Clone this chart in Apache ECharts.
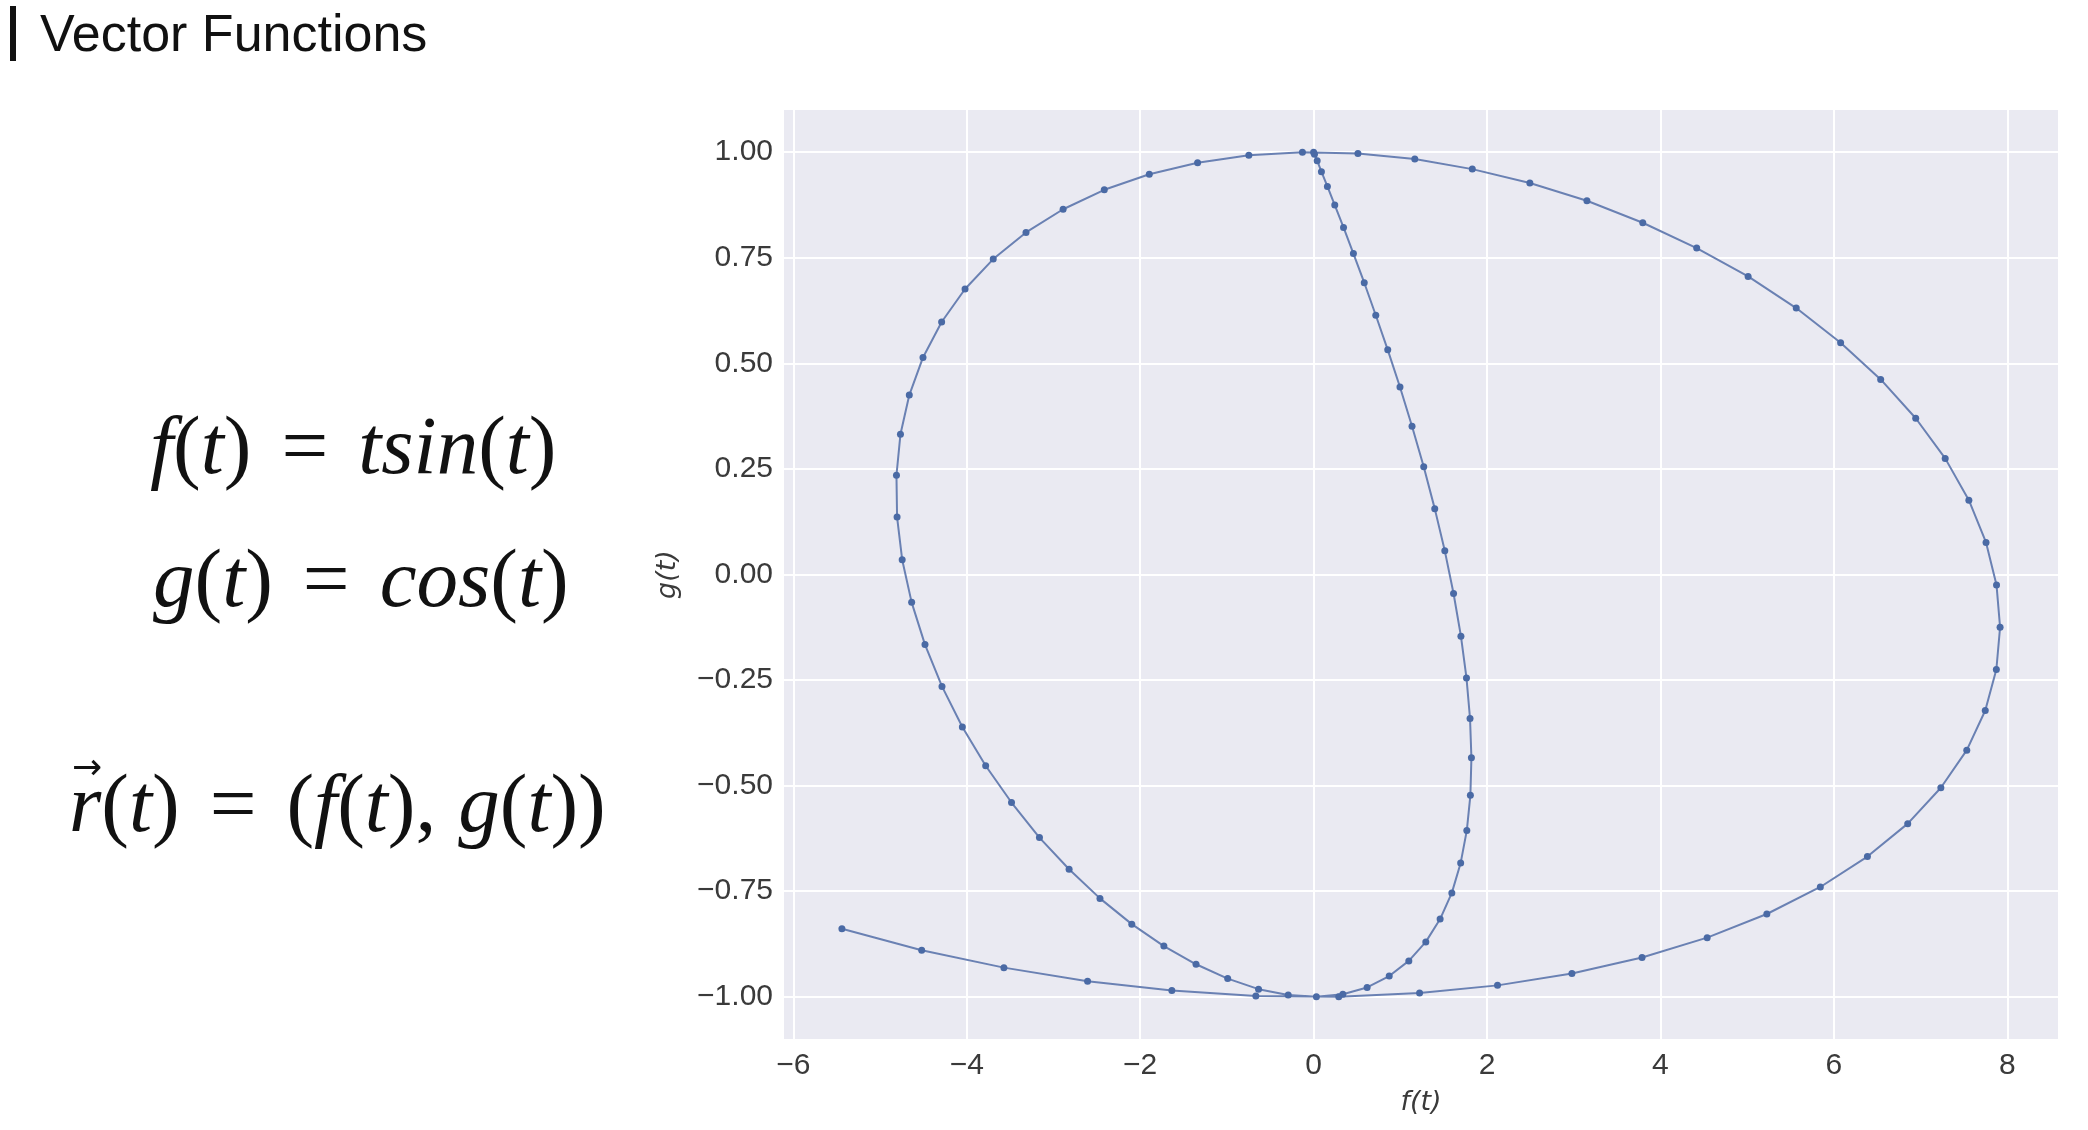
<!DOCTYPE html>
<html>
<head>
<meta charset="utf-8">
<title>Vector Functions</title>
<script src="https://cdn.jsdelivr.net/npm/echarts@6/dist/echarts.min.js"></script>
<style>
  html, body { margin: 0; padding: 0; background: #fff; }
  #chart { width: 2088px; height: 1130px; }
</style>
</head>
<body>
<div id="chart"></div>
<script>
const fVals = [0, 0.010, 0.041, 0.090, 0.159, 0.244, 0.345, 0.459, 0.584, 0.717,
  0.855, 0.996, 1.135, 1.270, 1.397, 1.513, 1.614, 1.699, 1.763, 1.804,
  1.820, 1.808, 1.767, 1.696, 1.594, 1.459, 1.294, 1.098, 0.872, 0.617,
  0.337, 0.032, -0.293, -0.635, -0.991, -1.356, -1.727, -2.097, -2.464, -2.820,
  -3.162, -3.484, -3.782, -4.051, -4.286, -4.482, -4.636, -4.745, -4.804, -4.811,
  -4.765, -4.663, -4.505, -4.290, -4.020, -3.695, -3.317, -2.889, -2.414, -1.895,
  -1.338, -0.747, -0.129, 0.511, 1.167, 1.830, 2.494, 3.152, 3.796, 4.418,
  5.011, 5.566, 6.078, 6.540, 6.944, 7.284, 7.557, 7.755, 7.876, 7.917,
  7.874, 7.746, 7.533, 7.234, 6.852, 6.387, 5.844, 5.227, 4.539, 3.788,
  2.979, 2.121, 1.222, 0.290, -0.666, -1.635, -2.607, -3.572, -4.520, -5.440]

const gVals = [1.000, 0.995, 0.980, 0.954, 0.919, 0.875, 0.822, 0.760, 0.691, 0.614,
  0.532, 0.444, 0.351, 0.255, 0.156, 0.056, -0.045, -0.146, -0.245, -0.341,
  -0.434, -0.523, -0.606, -0.683, -0.754, -0.816, -0.870, -0.915, -0.951, -0.978,
  -0.994, -1.000, -0.996, -0.982, -0.957, -0.923, -0.880, -0.828, -0.767, -0.698,
  -0.623, -0.540, -0.453, -0.361, -0.265, -0.166, -0.066, 0.035, 0.136, 0.235,
  0.332, 0.425, 0.514, 0.598, 0.676, 0.747, 0.810, 0.865, 0.911, 0.948,
  0.975, 0.993, 1.000, 0.997, 0.984, 0.960, 0.927, 0.885, 0.833, 0.773,
  0.706, 0.631, 0.549, 0.462, 0.370, 0.275, 0.176, 0.076, -0.025, -0.125,
  -0.225, -0.322, -0.416, -0.505, -0.590, -0.668, -0.740, -0.804, -0.860, -0.907,
  -0.945, -0.973, -0.991, -1.000, -0.998, -0.985, -0.963, -0.931, -0.890, -0.839]

const xTicks = [-6, -4, -2, 0, 2, 4, 6, 8]
const yTicks = [-1, -0.75, -0.5, -0.25, 0, 0.25, 0.5, 0.75, 1]

// matplotlib style 5% margins
const xMin = -6.108, xMax = 8.585
const yMin = -1.1, yMax = 1.1

const points = fVals.map((x, i) => [x, gVals[i]])

const minus = s => s.replace('-', '\u2212')
const labelColor = '#3a3a3a'

// formula text styles
const mathRich = {
  i: { fontFamily: 'Liberation Serif', fontStyle: 'italic', fontSize: 83, fill: '#111' },
  n: { fontFamily: 'Liberation Serif', fontSize: 83, fill: '#111' },
  e: { fontFamily: 'Liberation Serif', fontSize: 83, fill: '#111', padding: [0, 30] },
  c: { fontFamily: 'Liberation Serif', fontSize: 83, fill: '#111', padding: [0, 22, 0, 0] }
}

const chart = echarts.init(document.getElementById('chart'))

const option = {
  animation: false,
  backgroundColor: '#ffffff',
  grid: {
    show: true,
    left: 784,
    right: 30,
    top: 110,
    bottom: 91,
    backgroundColor: '#EAEAF2',
    borderWidth: 0
  },
  xAxis: {
    type: 'value',
    min: xMin,
    max: xMax,
    name: 'f(t)',
    nameLocation: 'middle',
    nameGap: 50,
    nameTextStyle: {
      fontFamily: 'DejaVu Sans',
      fontStyle: 'italic',
      fontSize: 27,
      color: labelColor
    },
    axisLine: { show: false },
    axisTick: { show: false, customValues: xTicks },
    axisLabel: {
      customValues: xTicks,
      margin: 12,
      fontFamily: 'Liberation Sans',
      fontSize: 30,
      color: labelColor,
      formatter: v => minus(String(v))
    },
    splitLine: { show: true, lineStyle: { color: '#ffffff', width: 2 } }
  },
  yAxis: {
    type: 'value',
    min: yMin,
    max: yMax,
    name: 'g(t)',
    nameLocation: 'middle',
    nameGap: 103,
    nameTextStyle: {
      fontFamily: 'DejaVu Sans',
      fontStyle: 'italic',
      fontSize: 27,
      color: labelColor
    },
    axisLine: { show: false },
    axisTick: { show: false, customValues: yTicks },
    axisLabel: {
      customValues: yTicks,
      margin: 11,
      fontFamily: 'Liberation Sans',
      fontSize: 30,
      color: labelColor,
      formatter: v => minus(v.toFixed(2))
    },
    splitLine: { show: true, lineStyle: { color: '#ffffff', width: 2 } }
  },
  graphic: [
    {
      type: 'rect',
      shape: { x: 10, y: 6, width: 6, height: 55 },
      style: { fill: '#111' }
    },
    {
      type: 'text',
      x: 40,
      y: 37,
      style: {
        text: 'Vector Functions',
        font: '52px "Liberation Sans"',
        fill: '#111',
        verticalAlign: 'middle'
      }
    },
    {
      type: 'text',
      x: 150,
      y: 451,
      style: {
        text: '{i|f}{n|(}{i|t}{n|)}{e|=}{i|tsin}{n|(}{i|t}{n|)}',
        verticalAlign: 'middle',
        rich: mathRich
      }
    },
    {
      type: 'text',
      x: 153,
      y: 584,
      style: {
        text: '{i|g}{n|(}{i|t}{n|)}{e|=}{i|cos}{n|(}{i|t}{n|)}',
        verticalAlign: 'middle',
        rich: mathRich
      }
    },
    {
      type: 'text',
      x: 69,
      y: 809,
      style: {
        text: '{i|r}{n|(}{i|t}{n|)}{e|=}{n|(}{i|f}{n|(}{i|t}{n|)}{c|,}{i|g}{n|(}{i|t}{n|))}',
        verticalAlign: 'middle',
        rich: mathRich
      }
    },
    {
      type: 'text',
      x: 72,
      y: 770,
      style: {
        text: '\u2192',
        font: '36px "DejaVu Sans"',
        fill: '#111',
        verticalAlign: 'middle'
      }
    }
  ],
  series: [
    {
      type: 'line',
      data: points,
      symbol: 'circle',
      symbolSize: 7,
      showSymbol: true,
      clip: false,
      lineStyle: { color: '#6a81b3', width: 2 },
      itemStyle: { color: '#4a6aa5' }
    }
  ]
}

chart.setOption(option)
window.addEventListener('resize', () => chart.resize())
</script>
</body>
</html>
